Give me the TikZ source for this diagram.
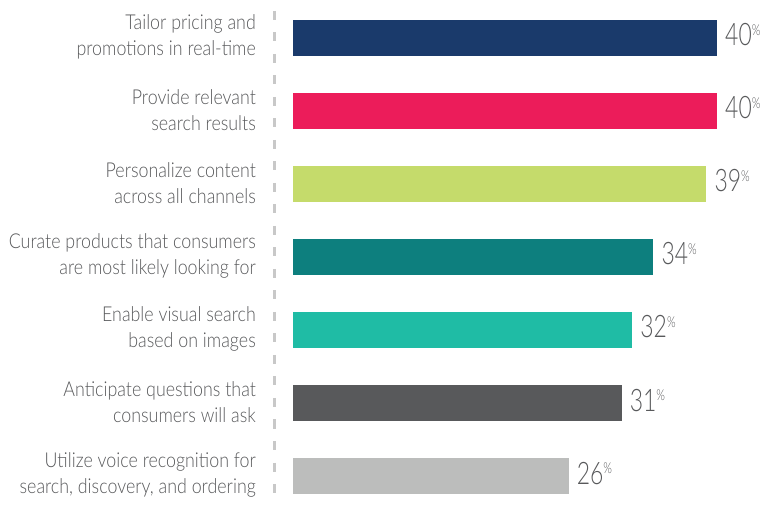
\documentclass[tikz,border=0pt]{standalone}
\usepackage{fontspec}
\setmainfont{Lato}[UprightFont=* Light, FakeStretch=0.87]
\newfontfamily\numfont{Lato}[UprightFont=* Light, FakeStretch=0.74]
\definecolor{txt}{HTML}{58595B}
\definecolor{cA}{HTML}{1A3A6B}
\definecolor{cB}{HTML}{EC1C5A}
\definecolor{cC}{HTML}{C5DB6B}
\definecolor{cD}{HTML}{0D7F7E}
\definecolor{cE}{HTML}{1FBCA5}
\definecolor{cF}{HTML}{58595B}
\definecolor{cG}{HTML}{BCBDBC}
\definecolor{dashgray}{HTML}{C8C8C8}
\begin{document}
\begin{tikzpicture}[x=1pt,y=-1pt,
  barbox/.style={fill=#1, draw=none},
  lbl/.style={anchor=east, align=right, inner sep=0pt, text=txt,
    font=\fontsize{20.5}{26}\selectfont},
  pct/.style={anchor=base west, inner sep=0pt, text=txt}]
\useasboundingbox (0,0) rectangle (764,505);
\coordinate (dtop) at (274.5,11);
\coordinate (dbot) at (274.5,505);
\draw[dashgray, line width=2.6pt, dash pattern=on 9pt off 12.5pt] (dtop) -- (dbot);
\newcommand{\pc}[1]{\numfont{\fontsize{31}{31}\selectfont #1}\raisebox{10.5pt}{\fontsize{15}{15}\selectfont\%}}
\foreach \i/\v/\c/\t in {
 0/40/cA/{Tailor pricing and\\promotions in real-time},
 1/40/cB/{Provide relevant\\search results},
 2/39/cC/{Personalize content\\across all channels},
 3/34/cD/{Curate products that consumers\\are most likely looking for},
 4/32/cE/{Enable visual search\\based on images},
 5/31/cF/{Anticipate questions that\\consumers will ask},
 6/26/cG/{Utilize voice recognition for\\search, discovery, and ordering}} {
  \pgfmathsetmacro{\yt}{20+73*\i}
  \pgfmathsetmacro{\xe}{293+10.6*\v}
  \path[barbox=\c] (293,\yt) rectangle (\xe,\yt+36);
  \node[lbl] (l\i) at (256,\yt+17) {\t};
  \node[pct] (p\i) at (\xe+8,\yt+18+8) {\pc{\v}};
}
\end{tikzpicture}
\end{document}
